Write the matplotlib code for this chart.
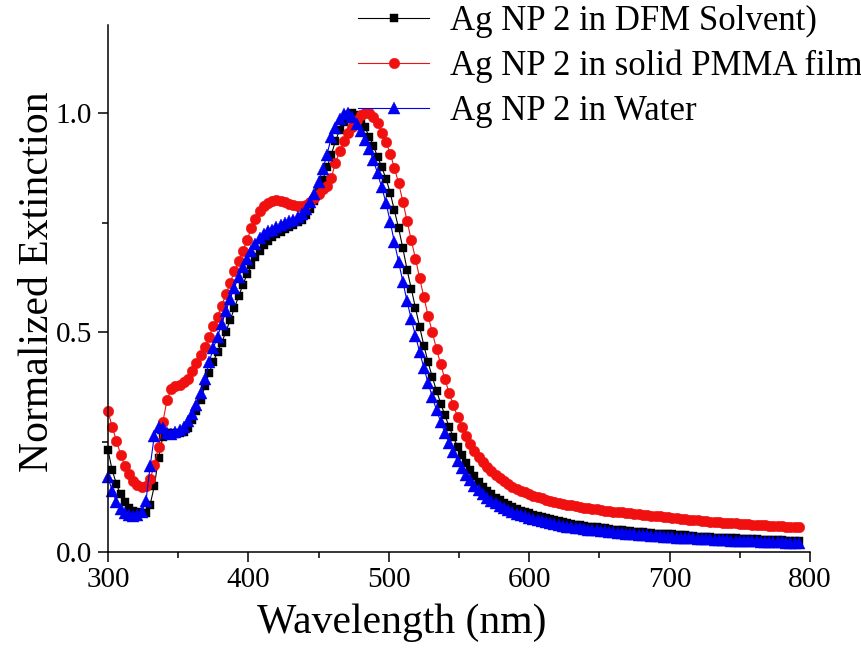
import numpy as np
import matplotlib
matplotlib.use("Agg")
import matplotlib.pyplot as plt
from matplotlib.ticker import MultipleLocator

plt.rcParams['font.family'] = ['Liberation Serif', 'DejaVu Serif']

# Wavelength grid start / step (nm)
wl_start = 300
wl_step = 3

labels = ["Ag NP 2 in DFM Solvent)", "Ag NP 2 in solid PMMA film", "Ag NP 2 in Water"]

dfm = [
    0.232, 0.186, 0.155, 0.131, 0.113, 0.101, 0.094, 0.090, 0.088, 0.088,
    0.108, 0.150, 0.215, 0.262, 0.272, 0.270, 0.268, 0.270, 0.274, 0.282,
    0.300, 0.322, 0.347, 0.377, 0.408, 0.433, 0.456, 0.477, 0.502, 0.528,
    0.555, 0.582, 0.608, 0.632, 0.653, 0.671, 0.686, 0.699, 0.708, 0.717,
    0.723, 0.729, 0.735, 0.740, 0.745, 0.751, 0.757, 0.767, 0.782, 0.800,
    0.822, 0.848, 0.876, 0.905, 0.935, 0.962, 0.980, 0.994, 1.000, 0.996,
    0.985, 0.967, 0.946, 0.925, 0.900, 0.876, 0.850, 0.818, 0.778, 0.737,
    0.692, 0.643, 0.599, 0.555, 0.512, 0.470, 0.432, 0.398, 0.367, 0.338,
    0.311, 0.285, 0.261, 0.240, 0.220, 0.202, 0.186, 0.172, 0.160, 0.149,
    0.139, 0.131, 0.124, 0.118, 0.112, 0.107, 0.102, 0.098, 0.094, 0.091,
    0.088, 0.085, 0.082, 0.079, 0.077, 0.075, 0.073, 0.071, 0.069, 0.067,
    0.064, 0.062, 0.061, 0.059, 0.058, 0.057, 0.056, 0.055, 0.054, 0.053,
    0.051, 0.050, 0.049, 0.048, 0.047, 0.046, 0.045, 0.045, 0.044, 0.043,
    0.042, 0.042, 0.041, 0.040, 0.040, 0.039, 0.038, 0.038, 0.037, 0.037,
    0.035, 0.035, 0.034, 0.034, 0.033, 0.033, 0.032, 0.032, 0.031, 0.031,
    0.030, 0.030, 0.030, 0.029, 0.029, 0.028, 0.028, 0.028, 0.027, 0.027,
    0.027, 0.026, 0.026, 0.026, 0.025,
]

pmma = [
    0.320, 0.285, 0.253, 0.222, 0.196, 0.177, 0.162, 0.152, 0.147, 0.150,
    0.166, 0.198, 0.240, 0.295, 0.345, 0.372, 0.379, 0.381, 0.386, 0.395,
    0.413, 0.430, 0.448, 0.467, 0.490, 0.515, 0.536, 0.561, 0.587, 0.613,
    0.639, 0.663, 0.686, 0.710, 0.737, 0.759, 0.776, 0.788, 0.795, 0.799,
    0.801, 0.800, 0.797, 0.793, 0.789, 0.787, 0.787, 0.791, 0.797, 0.805,
    0.815, 0.826, 0.834, 0.852, 0.886, 0.912, 0.935, 0.953, 0.968, 0.983,
    0.994, 1.000, 0.999, 0.990, 0.976, 0.955, 0.934, 0.907, 0.874, 0.840,
    0.798, 0.754, 0.710, 0.668, 0.623, 0.580, 0.538, 0.500, 0.462, 0.427,
    0.393, 0.362, 0.334, 0.308, 0.285, 0.264, 0.246, 0.231, 0.217, 0.205,
    0.194, 0.185, 0.176, 0.168, 0.161, 0.155, 0.149, 0.144, 0.140, 0.136,
    0.132, 0.128, 0.125, 0.122, 0.119, 0.116, 0.114, 0.112, 0.110, 0.108,
    0.106, 0.104, 0.103, 0.101, 0.100, 0.098, 0.097, 0.096, 0.094, 0.093,
    0.092, 0.091, 0.090, 0.089, 0.088, 0.087, 0.086, 0.085, 0.084, 0.083,
    0.082, 0.081, 0.080, 0.079, 0.078, 0.077, 0.076, 0.075, 0.074, 0.073,
    0.072, 0.071, 0.070, 0.069, 0.069, 0.068, 0.067, 0.066, 0.066, 0.065,
    0.064, 0.064, 0.063, 0.062, 0.062, 0.061, 0.061, 0.060, 0.060, 0.059,
    0.059, 0.058, 0.058, 0.057, 0.057,
]

water = [
    0.170, 0.140, 0.114, 0.098, 0.089, 0.085, 0.083, 0.085, 0.092, 0.115,
    0.195, 0.265, 0.284, 0.283, 0.272, 0.268, 0.273, 0.278, 0.285, 0.298,
    0.314, 0.334, 0.362, 0.394, 0.432, 0.464, 0.490, 0.519, 0.549, 0.577,
    0.602, 0.627, 0.649, 0.667, 0.686, 0.701, 0.714, 0.723, 0.730, 0.734,
    0.739, 0.744, 0.749, 0.753, 0.757, 0.762, 0.770, 0.782, 0.798, 0.816,
    0.842, 0.872, 0.905, 0.944, 0.965, 0.985, 0.997, 1.000, 0.990, 0.975,
    0.958, 0.939, 0.918, 0.893, 0.862, 0.830, 0.795, 0.752, 0.705, 0.660,
    0.615, 0.571, 0.530, 0.492, 0.455, 0.419, 0.385, 0.353, 0.323, 0.296,
    0.271, 0.248, 0.227, 0.208, 0.191, 0.176, 0.163, 0.151, 0.141, 0.132,
    0.124, 0.117, 0.111, 0.105, 0.100, 0.095, 0.091, 0.087, 0.084, 0.081,
    0.078, 0.075, 0.072, 0.070, 0.068, 0.066, 0.064, 0.062, 0.060, 0.058,
    0.057, 0.055, 0.054, 0.052, 0.051, 0.050, 0.049, 0.048, 0.047, 0.046,
    0.045, 0.044, 0.043, 0.042, 0.041, 0.040, 0.039, 0.039, 0.038, 0.037,
    0.036, 0.036, 0.035, 0.034, 0.034, 0.033, 0.032, 0.032, 0.031, 0.031,
    0.030, 0.030, 0.029, 0.029, 0.028, 0.028, 0.027, 0.027, 0.026, 0.026,
    0.025, 0.025, 0.025, 0.024, 0.024, 0.023, 0.023, 0.023, 0.022, 0.022,
    0.022, 0.021, 0.021, 0.021, 0.020,
]

x_ticks = [300, 400, 500, 600, 700, 800]
y_ticks = [0.0, 0.5, 1.0]

def wl(series):
    return wl_start + wl_step * np.arange(len(series))

fig = plt.figure(figsize=(8.62, 6.57), dpi=100)
ax = fig.add_axes([108/862, 1 - 552/657, (810-108)/862, (552-25)/657])

styles = [
    dict(color='#000000', marker='s', ms=6.2),
    dict(color='#f01010', marker='o', ms=7.6),
    dict(color='#0000f0', marker='^', ms=8.2),
]
handles = []
for series, lab, st in zip([dfm, pmma, water], labels, styles):
    h, = ax.plot(wl(series), series, color=st['color'], lw=0.8,
                 marker=st['marker'], ms=st['ms'], mfc=st['color'],
                 mec=st['color'], mew=0.3, label=lab, clip_on=False)
    handles.append(h)

ax.set_xlim(300, 800)
ax.set_ylim(0, 1.2)
ax.set_xticks(x_ticks)
ax.set_yticks(y_ticks)
ax.set_yticklabels([f"{v:.1f}" for v in y_ticks])
ax.xaxis.set_minor_locator(MultipleLocator(50))
ax.yaxis.set_minor_locator(MultipleLocator(0.25))
for s in ['top', 'right']:
    ax.spines[s].set_visible(False)
for s in ['left', 'bottom']:
    ax.spines[s].set_linewidth(1.1)
ax.tick_params(which='major', direction='out', length=7.5, width=1.1,
               labelsize=21, pad=3)
ax.tick_params(which='minor', direction='out', length=4, width=1.1)
ax.tick_params(axis='y', which='major', pad=4)

ax.set_xlabel("Wavelength (nm)", fontsize=30)
ax.xaxis.set_label_coords(0.419, -0.097)
ax.set_ylabel("Normalized Extinction", fontsize=30)
ax.yaxis.set_label_coords(-0.072, 0.512)

fig.legend(handles=handles, labels=labels, loc='upper left',
           bbox_to_anchor=(358/862, 0.992), frameon=False, fontsize=25,
           handlelength=2.05, handletextpad=0.6, labelspacing=0.33,
           borderpad=0, borderaxespad=0)

fig.savefig("out.png", dpi=100)
